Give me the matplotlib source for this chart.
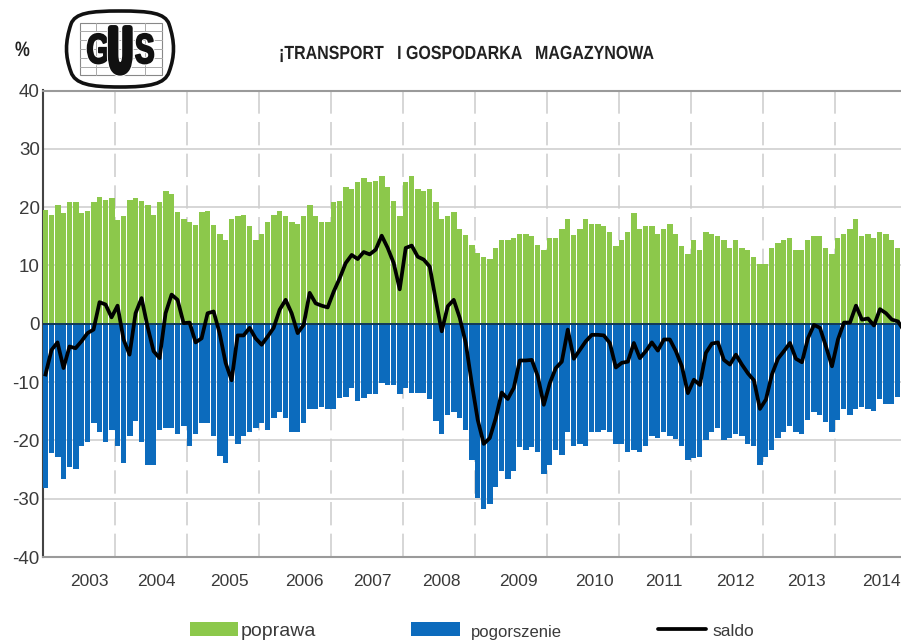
# chart of business climate balance, transport and storage
import matplotlib
matplotlib.use('Agg')
import matplotlib.pyplot as plt
from matplotlib.patches import PathPatch, Rectangle
from matplotlib.path import Path
from matplotlib.patheffects import AbstractPathEffect
from matplotlib.transforms import Affine2D

poprawa = [19.5, 18.7, 20.3, 19.0, 20.8, 20.8, 19.0, 19.4, 20.8, 21.8, 21.2, 21.6,
           17.8, 18.5, 21.2, 21.6, 21.1, 20.3, 18.6, 20.8, 22.7, 22.3, 19.1, 17.9,
           17.5, 17.0, 19.1, 19.4, 17.0, 15.4, 14.3, 17.9, 18.4, 18.6, 16.7, 14.3,
           15.4, 17.5, 18.6, 19.4, 18.4, 17.5, 17.1, 18.4, 20.3, 18.4, 17.5, 17.5,
           20.8, 21.1, 23.5, 23.1, 24.3, 25.0, 24.3, 24.5, 25.4, 23.5, 21.1, 18.4,
           24.3, 25.4, 23.1, 22.7, 23.1, 20.8, 17.9, 18.4, 19.1, 16.2, 15.2, 13.5,
           12.1, 11.4, 11.1, 13.0, 14.3, 14.3, 14.7, 15.4, 15.4, 15.1, 13.5, 12.7,
           14.7, 14.7, 16.2, 17.9, 15.2, 16.2, 17.9, 17.1, 17.1, 16.7, 15.7, 13.4,
           14.3, 15.8, 19.0, 16.2, 16.7, 16.7, 15.4, 16.2, 17.1, 15.4, 13.4, 11.9,
           14.3, 12.6, 15.8, 15.4, 15.1, 14.3, 13.0, 14.3, 13.0, 12.6, 11.4, 10.2,
           10.2, 13.0, 13.8, 14.3, 14.7, 12.6, 12.6, 14.3, 15.1, 15.1, 13.0, 11.9,
           14.7, 15.4, 16.2, 17.9, 15.1, 15.4, 14.7, 15.8, 15.4, 14.3, 13.0]

pogorszenie = [-28.2, -22.2, -22.9, -26.6, -24.5, -24.9, -21.0, -20.2, -17.0, -18.5, -20.2, -18.2,
               -21.0, -23.9, -19.3, -16.6, -20.2, -24.2, -24.2, -18.2, -17.9, -17.9, -18.9, -17.6,
               -21.0, -18.9, -17.0, -17.0, -19.3, -22.6, -23.8, -19.3, -20.6, -19.3, -18.5, -17.9,
               -17.0, -18.2, -16.2, -15.1, -16.2, -18.5, -18.5, -17.0, -14.6, -14.6, -14.3, -14.6,
               -14.6, -12.8, -12.5, -11.0, -13.3, -12.8, -12.0, -12.0, -10.2, -10.5, -10.5, -12.0,
               -11.0, -11.8, -11.8, -11.8, -12.9, -16.6, -18.9, -15.7, -15.1, -16.1, -18.2, -23.3,
               -29.9, -31.7, -30.9, -28.0, -25.3, -26.6, -25.3, -21.2, -21.6, -21.2, -22.0, -25.7,
               -24.2, -21.6, -22.5, -18.5, -20.9, -20.7, -21.0, -18.5, -18.5, -18.3, -18.5, -20.6,
               -20.6, -22.0, -21.7, -22.0, -21.0, -19.3, -19.6, -18.5, -19.3, -19.7, -21.0, -23.3,
               -23.1, -22.9, -20.0, -18.5, -17.8, -20.0, -19.6, -18.9, -19.3, -20.6, -21.0, -24.3,
               -22.9, -21.7, -19.6, -18.5, -17.5, -18.5, -18.9, -16.5, -15.1, -15.7, -16.9, -18.5,
               -16.5, -14.6, -15.7, -14.6, -14.2, -14.6, -15.0, -12.9, -13.8, -13.7, -12.5]

saldo = [-8.7, -4.5, -3.2, -7.6, -3.9, -4.2, -3.0, -1.6, -1.0, 3.7, 3.3, 1.1,
         3.1, -2.7, -5.3, 1.8, 4.4, -0.5, -4.7, -5.9, 1.8, 5.0, 4.1, 0.1,
         0.2, -3.2, -2.5, 1.8, 2.1, -1.6, -6.7, -9.7, -2.0, -2.0, -0.7, -2.5,
         -3.6, -2.2, -0.7, 2.4, 4.1, 1.8, -1.6, -0.2, 5.3, 3.5, 3.1, 2.8,
         5.5, 7.8, 10.4, 11.8, 11.1, 12.3, 11.9, 12.7, 15.1, 13.0, 10.4, 5.9,
         13.0, 13.4, 11.5, 11.0, 9.8, 4.1, -1.3, 3.0, 4.1, 1.0, -3.3, -10.2,
         -16.5, -20.6, -19.6, -16.2, -11.8, -12.9, -11.0, -6.3, -6.3, -6.2, -9.0, -13.9,
         -10.2, -7.6, -6.5, -1.0, -6.0, -4.5, -3.0, -1.9, -1.9, -2.0, -3.3, -7.5,
         -6.7, -6.5, -3.3, -5.9, -4.7, -3.2, -4.6, -2.7, -2.7, -4.7, -7.3, -11.9,
         -9.6, -10.5, -5.0, -3.4, -3.2, -6.2, -7.0, -5.3, -7.0, -8.5, -9.7, -14.6,
         -13.0, -8.7, -6.0, -4.7, -3.3, -6.0, -6.6, -2.5, -0.2, -0.7, -3.9, -7.3,
         -2.7, 0.2, 0.2, 3.1, 0.7, 0.9, -0.3, 2.5, 1.8, 0.7, 0.4, -1.2]

years = ['2003', '2004', '2005', '2006', '2007', '2008', '2009', '2010', '2011', '2012', '2013', '2014']
year_ticks = [12, 24, 36, 48, 60, 72, 84, 96, 108, 120, 132]
# year labels are not centred in the original, position in months from start
year_label_pos = [7.75, 18.9, 31.2, 43.7, 55.0, 66.4, 79.2, 92.0, 103.5, 115.4, 127.2, 139.7]
y_ticks = [-40, -30, -20, -10, 0, 10, 20, 30, 40]

GREEN = '#8CC84B'
BLUE = '#0C6BBD'
GRID = '#CFCFCF'
TEXT = '#3A3A3A'
SANS = ['Liberation Sans', 'DejaVu Sans']


class Squeeze(AbstractPathEffect):
    # no condensed font is installed, so narrow the glyphs of a normal text
    def __init__(self, sx, stroke=0.0, halo=0.0):
        super().__init__()
        self.sx, self.stroke, self.halo = sx, stroke, halo

    def draw_path(self, renderer, gc, tpath, affine, rgbFace=None):
        x0 = affine.get_matrix()[0, 2]
        squeezed = affine + Affine2D().translate(-x0, 0).scale(self.sx, 1).translate(x0, 0)
        for width, colour in [(self.stroke + self.halo, 'white'), (self.stroke, rgbFace)]:
            if width > 0 and (colour is rgbFace or self.halo > 0):
                gc0 = renderer.new_gc()
                gc0.copy_properties(gc)
                gc0.set_foreground(colour)
                gc0.set_linewidth(width * 0.72)
                gc0.set_joinstyle('round')
                renderer.draw_path(gc0, tpath, squeezed, None)
                gc0.restore()
        renderer.draw_path(gc, tpath, squeezed, rgbFace)


W, H = 901, 641
fig = plt.figure(figsize=(W / 100, H / 100), dpi=100, facecolor='white')

left, right, top, bottom = 42.5, 901, 90.5, 557
ax = fig.add_axes([left / W, 1 - bottom / H, (right - left) / W, (bottom - top) / H])

n = len(poprawa)
x = list(range(n))
# resampled source: two of three bars are followed by a thin gap
widths = [0.87 if i % 3 != 2 else 1.0 for i in x]

ax.bar(x, poprawa, width=widths, align='edge', color=GREEN, linewidth=0, zorder=3)
ax.bar(x, pogorszenie, width=widths, align='edge', color=BLUE, linewidth=0, zorder=3)
ax.axhline(0, color='#123A5A', lw=1.4, zorder=4)
ax.plot([i + 0.5 for i in range(len(saldo))], saldo, color='black', lw=2.7,
        solid_joinstyle='round', zorder=5)

ax.set_xlim(0, n)
ax.set_ylim(-40, 40)
ax.set_yticks(y_ticks)
ax.set_yticklabels([str(v) for v in y_ticks], fontsize=13.5, family=SANS, color=TEXT)
ax.set_xticks([])
ax.tick_params(axis='y', length=0, pad=2)

for v in y_ticks[1:-1]:
    ax.axhline(v, color=GRID, lw=1.2, zorder=1)
for t in year_ticks:
    ax.axvline(t, color=GRID, lw=1.2, linestyle=(0, (14, 5)), zorder=1)

ax.spines['right'].set_visible(False)
ax.spines['left'].set_color('#444444')
ax.spines['left'].set_linewidth(1.5)
ax.spines['top'].set_color('#9A9A9A')
ax.spines['bottom'].set_color('#9A9A9A')
ax.spines['top'].set_linewidth(1.5)
ax.spines['bottom'].set_linewidth(1.5)

# overlay in pixel coordinates for logo, heading and legend
ov = fig.add_axes([0, 0, 1, 1], facecolor='none')
ov.set_xlim(0, W)
ov.set_ylim(H, 0)
ov.axis('off')

for label, pos in zip(years, year_label_pos):
    ov.text(left + pos * (right - left) / n, 582, label, fontsize=12.5, family=SANS,
            color=TEXT, ha='center', va='center')

# logo outline
outline = Path([(120, 11), (150, 11), (165, 13), (169, 24), (175, 42), (175, 56), (169, 72),
                (165, 84), (150, 87), (120, 87), (90, 87), (75, 84), (71, 72), (65, 56),
                (65, 42), (71, 24), (75, 13), (90, 11), (120, 11)],
               [Path.MOVETO] + [Path.CURVE4] * 18)
ov.add_patch(PathPatch(outline, facecolor='white', edgecolor='#111111', lw=2.6))
ov.add_patch(Rectangle((80, 23), 82, 52, facecolor='white', edgecolor='#888888', lw=0.8))
for gy in [31, 40, 49, 58, 67]:
    ov.plot([80, 162], [gy, gy], color='#AAAAAA', lw=0.7)
for gx in [96, 145]:
    ov.plot([gx, gx], [23, 75], color='#AAAAAA', lw=0.7)

ov.text(86.5, 63, 'G', fontsize=30, family=SANS, weight='bold', color='#111111', ha='left',
        va='baseline', path_effects=[Squeeze(0.72, stroke=2, halo=2)])
ov.text(135, 63, 'S', fontsize=30, family=SANS, weight='bold', color='#111111', ha='left',
        va='baseline', path_effects=[Squeeze(0.70, stroke=2, halo=2)])
ov.text(109, 72, 'U', fontsize=46, family=SANS, weight='bold', color='#111111', ha='left',
        va='baseline', path_effects=[Squeeze(0.49, stroke=6, halo=2)])

ov.text(15, 56, '%', fontsize=15, family=SANS, weight='bold', color='#222222', ha='left',
        va='baseline', path_effects=[Squeeze(0.8)])

# heading, letters narrow and with uneven spaces as in the original
ov.text(279, 59, '¡TRANSPORT   I GOSPODARKA   MAGAZYNOWA', fontsize=13.7, family=SANS, weight='bold',
        color='#222222', ha='left', va='baseline', path_effects=[Squeeze(0.84)])

# legend
ov.add_patch(Rectangle((190, 622), 48, 14, facecolor=GREEN, edgecolor='none'))
ov.add_patch(Rectangle((411, 622), 49, 14, facecolor=BLUE, edgecolor='none'))
ov.plot([658, 706], [628.7, 628.7], color='black', lw=2.7, solid_capstyle='round')
ov.text(241, 632, 'poprawa', fontsize=14, family=SANS, color=TEXT, ha='left', va='center')
ov.text(471, 632, 'pogorszenie', fontsize=12, family=SANS, color=TEXT, ha='left', va='center')
ov.text(712, 632, 'saldo', fontsize=12.5, family=SANS, color=TEXT, ha='left', va='center')

fig.savefig('out.png', dpi=100)
